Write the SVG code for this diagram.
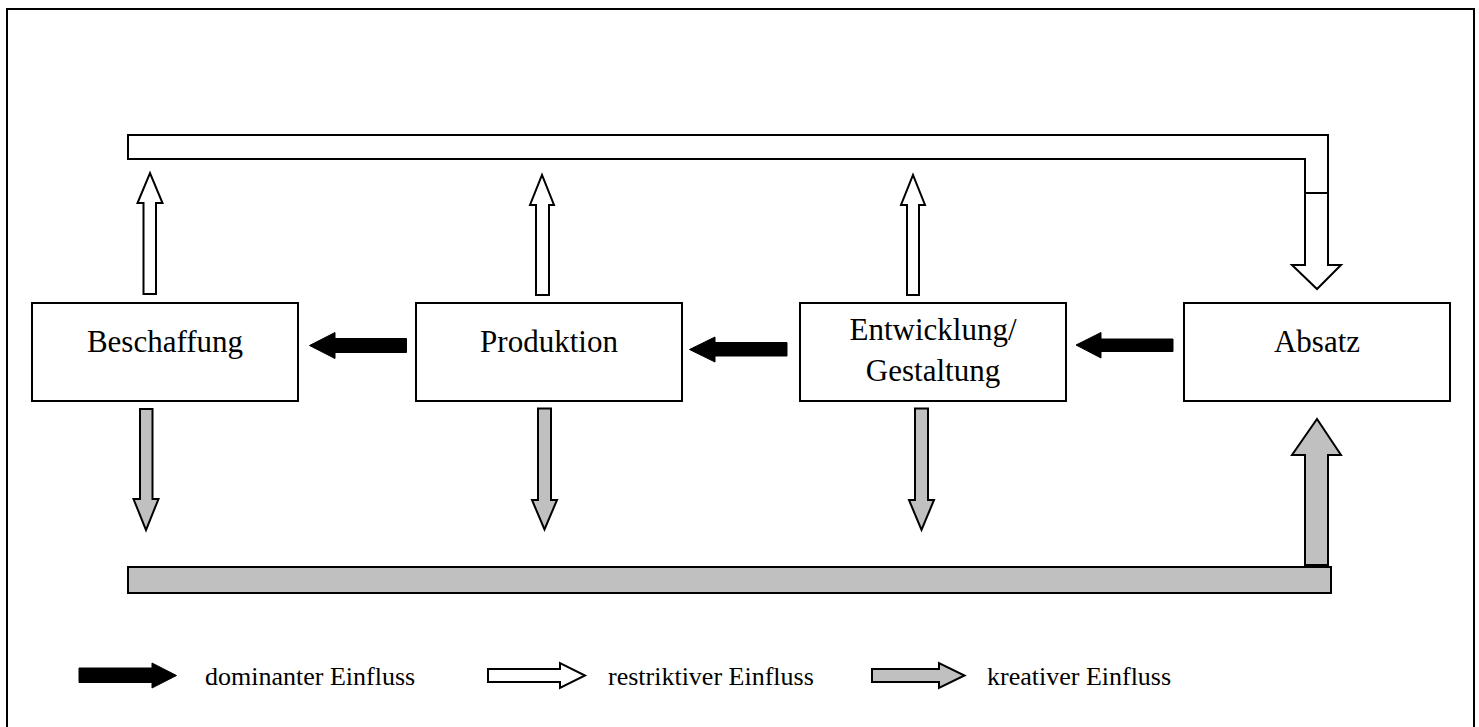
<svg xmlns="http://www.w3.org/2000/svg" width="1479" height="727" viewBox="0 0 1479 727">
<style>
.box{fill:#fff;stroke:#000;stroke-width:2}
.lbl{font-family:"Liberation Serif","Times New Roman",serif;font-size:31px;fill:#000;text-anchor:middle}
.leg{font-family:"Liberation Serif","Times New Roman",serif;font-size:26px;fill:#000}
.dom{fill:#000;stroke:#000;stroke-width:1}
.res{fill:#fff;stroke:#000;stroke-width:2;stroke-linejoin:miter}
.kre{fill:#c0c0c0;stroke:#000;stroke-width:2;stroke-linejoin:miter}
</style>
<rect x="0" y="0" width="1479" height="727" fill="#fff"/>
<rect x="7" y="9" width="1467" height="740" fill="none" stroke="#000" stroke-width="2"/>
<g id="connectors">
<path class="res" d="M128,135 H1328 V193 H1305 V159 H128 Z"/>
<path class="res" d="M1305,193 H1328 V265 H1341 L1317,289 L1292,265 H1305 Z"/>
<path class="kre" d="M128,567 H1331 V593 H128 Z"/>
<path class="kre" d="M1305,565 V455 H1292 L1317,419 L1341,455 H1328 V565 Z"/>
<path class="res" d="M143.5,294 V203 H137.5 L150,173 L162.5,203 H156 V294 Z"/>
<path class="res" d="M536,295 V205 H530 L542,175 L554,205 H549 V295 Z"/>
<path class="res" d="M907,295 V205 H901 L913,175 L925,205 H919 V295 Z"/>
<path class="kre" d="M140,409 H152.5 V499 H158.5 L146,530 L133.5,499 H140 Z"/>
<path class="kre" d="M538,408.5 H551 V500 H557 L544.5,529.5 L532,500 H538 Z"/>
<path class="kre" d="M915,408.5 H928 V500 H934 L921.5,530 L909,500 H915 Z"/>
<path class="dom" d="M406.5,338.5 V352.5 H335 V358.5 L309.5,345.5 L335,332.5 V338.5 Z"/>
<path class="dom" d="M787,342.5 V356 H715 V362 L689.5,349.5 L715,337 V342.5 Z"/>
<path class="dom" d="M1173,339 V351.5 H1101 V358 L1076,345 L1101,332.5 V339 Z"/>
</g>
<g id="beschaffung"><rect class="box" x="32" y="303" width="266" height="98"/><text class="lbl" x="165" y="352">Beschaffung</text></g>
<g id="produktion"><rect class="box" x="416" y="303" width="266" height="98"/><text class="lbl" x="549" y="352">Produktion</text></g>
<g id="entwicklung"><rect class="box" x="800" y="303" width="266" height="98"/><text class="lbl" x="933" y="340">Entwicklung/</text><text class="lbl" x="933" y="381">Gestaltung</text></g>
<g id="absatz"><rect class="box" x="1184" y="303" width="266" height="98"/><text class="lbl" x="1317" y="352">Absatz</text></g>
<g id="legend">
<path class="dom" d="M79,668 H152 V663 L176.5,675.5 L152,688 V682.5 H79 Z"/>
<text class="leg" x="205" y="685">dominanter Einfluss</text>
<path class="res" d="M488,669 H560 V663 L585,675.5 L560,688 V682 H488 Z"/>
<text class="leg" x="608" y="685">restriktiver Einfluss</text>
<path class="kre" d="M872,669 H939 V663 L964.5,675.5 L939,688 V682 H872 Z"/>
<text class="leg" x="987" y="685">kreativer Einfluss</text>
</g>
</svg>
